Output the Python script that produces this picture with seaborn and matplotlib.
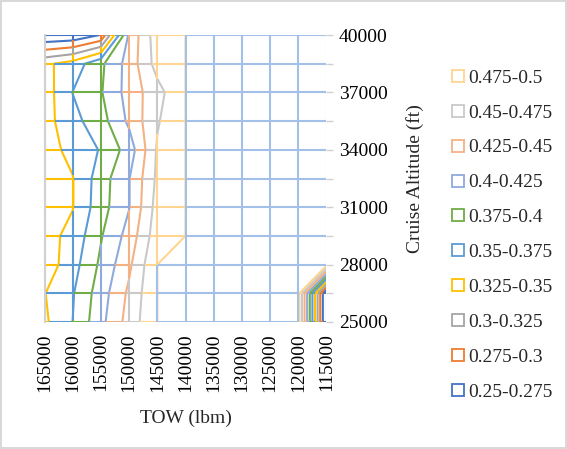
import numpy as np
import matplotlib
matplotlib.use("Agg")
import matplotlib.pyplot as plt
from matplotlib.collections import LineCollection
from matplotlib.lines import Line2D
import seaborn as sns

# ---------------- data ----------------
tow = [165000, 160000, 155000, 150000, 145000, 140000,
       135000, 130000, 125000, 120000, 115000]
alt = [25000, 26500, 28000, 29500, 31000, 32500,
       34000, 35500, 37000, 38500, 40000]
y_tick_labels = [25000, 28000, 31000, 34000, 37000, 40000]

band_edges = [0.25, 0.275, 0.3, 0.325, 0.35, 0.375, 0.4, 0.425, 0.45, 0.475, 0.5]
band_labels = ["0.25-0.275", "0.275-0.3", "0.3-0.325", "0.325-0.35", "0.35-0.375",
               "0.375-0.4", "0.4-0.425", "0.425-0.45", "0.45-0.475", "0.475-0.5"]
band_colors = ["#4472C4", "#ED7D31", "#A5A5A5", "#FFC000", "#5B9BD5",
               "#70AD47", "#8FAADC", "#F4B183", "#C9C9C9", "#FFD591"]
over_color = "#A3C1E8"

# values at each (altitude row, TOW column)
z_25000 = [0.3455, 0.3752, 0.418, 0.460, 0.500, 0.51, 0.51, 0.51, 0.51, 0.51, 0.24]
z_26500 = [0.349, 0.373, 0.413, 0.455, 0.500, 0.51, 0.51, 0.51, 0.51, 0.51, 0.24]
z_28000 = [0.335, 0.365, 0.405, 0.445, 0.500, 0.51, 0.51, 0.51, 0.51, 0.51, 0.51]
z_29500 = [0.340, 0.358, 0.398, 0.4345, 0.490, 0.50, 0.51, 0.51, 0.51, 0.51, 0.51]
z_31000 = [0.340, 0.349, 0.390, 0.424, 0.485, 0.50, 0.51, 0.51, 0.51, 0.51, 0.51]
z_32500 = [0.340, 0.349, 0.3878, 0.424, 0.480, 0.50, 0.51, 0.51, 0.51, 0.51, 0.51]
z_34000 = [0.340, 0.357, 0.377, 0.411, 0.478, 0.50, 0.51, 0.51, 0.51, 0.51, 0.51]
z_35500 = [0.340, 0.367, 0.390, 0.430, 0.4725, 0.50, 0.51, 0.51, 0.51, 0.51, 0.51]
z_37000 = [0.337, 0.3755, 0.398, 0.435, 0.466, 0.50, 0.51, 0.51, 0.51, 0.51, 0.51]
z_38500 = [0.345, 0.360, 0.395, 0.435, 0.485, 0.50, 0.51, 0.51, 0.51, 0.51, 0.51]
z_40000 = [0.252, 0.255, 0.276, 0.430, 0.490, 0.50, 0.51, 0.51, 0.51, 0.51, 0.51]

Z = np.array([z_25000, z_26500, z_28000, z_29500, z_31000, z_32500,
              z_34000, z_35500, z_37000, z_38500, z_40000])

# ---------------- figure ----------------
sns.set_theme(style="white")
plt.rcParams['font.family'] = ['Liberation Serif', 'DejaVu Serif']

W, H = 567, 449
fig = plt.figure(figsize=(W / 100, H / 100), dpi=100)
fig.patch.set_edgecolor("#D9D9D9")
fig.patch.set_linewidth(1.5)
x0, x1, y0, y1 = 44.5, 326.5, 35, 322
ax = fig.add_axes([x0 / W, 1 - y1 / H, (x1 - x0) / W, (y1 - y0) / H])

X, Y = np.meshgrid(tow, alt)
ax.contour(X, Y, Z, levels=band_edges[1:], colors=band_colors,
           linewidths=1.5, zorder=2)

all_colors = band_colors + [over_color]


def band_index(z):
    k = np.searchsorted(band_edges, z, side="right") - 1
    return int(np.clip(k, 0, len(all_colors) - 1))


segs, cols = [], []
t = np.linspace(0, 1, 61)
nr, nc = Z.shape
# horizontal wires
for i in range(nr):
    for j in range(nc - 1):
        xs = tow[j] + t * (tow[j + 1] - tow[j])
        zs = Z[i, j] + t * (Z[i, j + 1] - Z[i, j])
        for k in range(len(t) - 1):
            segs.append([(xs[k], alt[i]), (xs[k + 1], alt[i])])
            cols.append(all_colors[band_index(0.5 * (zs[k] + zs[k + 1]))])
# vertical wires
for j in range(nc):
    for i in range(nr - 1):
        ys = alt[i] + t * (alt[i + 1] - alt[i])
        zs = Z[i, j] + t * (Z[i + 1, j] - Z[i, j])
        for k in range(len(t) - 1):
            segs.append([(tow[j], ys[k]), (tow[j], ys[k + 1])])
            cols.append(all_colors[band_index(0.5 * (zs[k] + zs[k + 1]))])
lc = LineCollection(segs, colors=cols, linewidths=1.5, zorder=3, capstyle="butt")
ax.add_collection(lc)

ax.set_xlim(165000, 115000)
ax.set_ylim(25000, 40000)
ax.set_xticks(tow)
ax.set_xticklabels([str(v) for v in tow], rotation=90)
ax.yaxis.tick_right()
ax.yaxis.set_label_position("right")
ax.set_yticks(y_tick_labels)
ax.set_yticklabels([str(v) for v in y_tick_labels])
ax.set_yticks(alt[1::2], minor=True)
ax.tick_params(axis="both", which="both", direction="out", length=5, width=1,
               color="#D0D0D0", labelcolor="black", labelsize=14)
ax.tick_params(axis="y", which="both", right=True, left=False, pad=4)
ax.tick_params(axis="x", pad=3)
ax.grid(False)
for s in ["top", "right", "bottom"]:
    ax.spines[s].set_visible(False)
ax.spines["left"].set_color("#D0D0D0")
ax.spines["left"].set_linewidth(1.5)
ax.spines["left"].set_zorder(5)

ax.set_xlabel("TOW (lbm)", fontsize=14, labelpad=13)
ax.set_ylabel("Cruise Altitude (ft)", fontsize=14, labelpad=13)

handles = [Line2D([], [], marker="s", ls="none", markerfacecolor="white",
                  markeredgecolor=c, markersize=8, markeredgewidth=1.3)
           for c in band_colors]
leg = fig.legend(handles[::-1], band_labels[::-1], loc="upper left",
                 bbox_to_anchor=(450.7 / W, 1 - 69 / H), frameon=False,
                 fontsize=14, labelspacing=0.89, handlelength=0.7,
                 handletextpad=0.2, borderpad=0, borderaxespad=0)

fig.savefig("out.png", dpi=100)
